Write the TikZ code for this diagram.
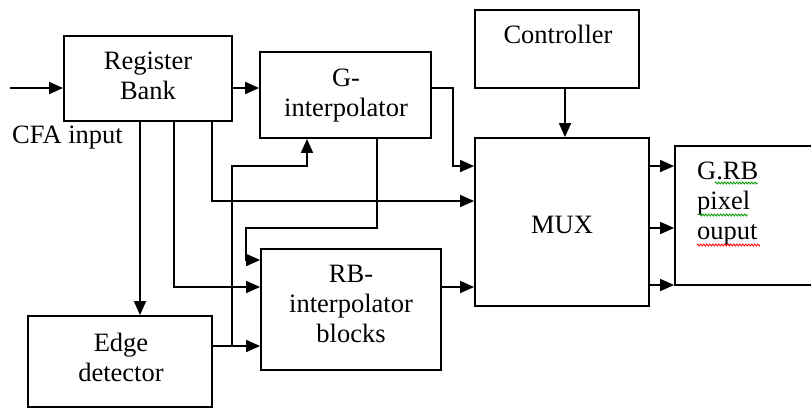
\documentclass[tikz,border=0pt]{standalone}
\usepackage{fontspec}
\setmainfont{Liberation Serif}
\newfontfamily\diagfont{Liberation Serif}
\usetikzlibrary{arrows.meta,decorations.pathmorphing}
\begin{document}
\begin{tikzpicture}[x=1pt,y=-1pt,
  box/.style={draw,line width=1.8pt,rectangle,inner sep=0pt},
  txt/.style={inner sep=0pt,align=center,font=\diagfont\fontsize{26.5}{30}\selectfont},
  arr/.style={line width=1.7pt,-{Triangle[length=14pt,width=12pt]}},
  squig/.style={line width=0.8pt,decorate,decoration={zigzag,segment length=3pt,amplitude=1pt}}]
\path[use as bounding box,clip] (0,0) rectangle (811,408);
% boxes
\node[box,minimum width=168pt,minimum height=85pt] (rb) at (148,78.5) {};
\node[box,minimum width=171pt,minimum height=86pt] (gi) at (345.5,95) {};
\node[box,minimum width=180pt,minimum height=121pt] (ri) at (351,309.5) {};
\node[box,minimum width=184pt,minimum height=91pt] (ed) at (120,361.5) {};
\node[box,minimum width=164pt,minimum height=78pt] (ctl) at (557,49) {};
\node[box,minimum width=174pt,minimum height=168pt] (mux) at (562,222) {};
\node[box,minimum width=155pt,minimum height=139pt] (out) at (752.5,215.5) {};
% texts
\node[txt,anchor=north] (trb) at (148,52) {Register\\Bank};
\node[txt,anchor=north] (tgi) at (346,69) {G-\\interpolator};
\node[txt,anchor=north] (tri) at (351,265) {RB-\\interpolator\\blocks};
\node[txt,anchor=north] (ted) at (121,333) {Edge\\detector};
\node[txt,anchor=base] (tctl) at (558,43) {Controller};
\node[txt,anchor=base] (tmux) at (562,233) {MUX};
\node[txt,anchor=north west,align=left] (tout) at (697,162) {G.RB\\pixel\\ouput};
\node[txt,anchor=base west] (tin) at (12,143) {CFA input};
% squiggles
\draw[squig,green!60!black] (715,183) -- (758,183);
\draw[squig,green!60!black] (699,215) -- (748,215);
\draw[squig,red] (697,245) -- (760,245);
% connectors
\coordinate (in) at (10,88);
\draw[arr] (in) -- (rb.west |- in);
\draw[arr] ([yshift=-9.5pt]rb.east) -- ([yshift=7pt]gi.west);
\draw[arr] ([xshift=64pt]rb.south) |- ([yshift=21pt]mux.west);
\draw[arr] ([xshift=26pt]rb.south) |- ([yshift=22.5pt]ri.west);
\draw[arr] ([xshift=-8pt]rb.south) -- ([xshift=20pt]ed.north);
\draw[arr] ([yshift=7pt]gi.east) -- ++(21,0) |- ([yshift=56pt]mux.west);
\coordinate (k1) at (246,228);
\draw[arr] ([xshift=31.5pt]gi.south) |- (k1) |- ([yshift=49.5pt]ri.west);
\draw[arr] ([yshift=15.5pt]ed.east) -- ([yshift=-36.5pt]ri.west);
\coordinate (j1) at (232,346);
\coordinate (k2) at (232,166);
\draw[arr] (j1) -- (k2) -| ([xshift=-38.5pt]gi.south);
\draw[arr] ([yshift=22.5pt]ri.east) -- ([yshift=-65pt]mux.west);
\draw[arr] ([xshift=8pt]ctl.south) -- ([xshift=3pt]mux.north);
\draw[arr] ([yshift=56pt]mux.east) -- ([yshift=49.5pt]out.west);
\draw[arr] ([yshift=-6pt]mux.east) -- ([yshift=-12.5pt]out.west);
\draw[arr] ([yshift=-63pt]mux.east) -- ([yshift=-69.5pt]out.west);
\end{tikzpicture}
\end{document}
